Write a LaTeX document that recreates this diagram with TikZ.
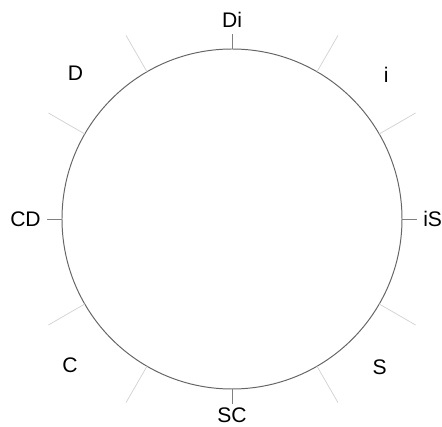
\documentclass[tikz,border=0pt]{standalone}
\usepackage{fontspec}
\setmainfont{Liberation Sans}
\tikzset{
  rim/.style={draw=black!60,line width=0.7pt},
  spoke/.style={draw=black!18,line width=0.5pt},
  axis tick/.style={draw=black!50,line width=0.6pt},
  pole/.style={inner sep=0pt},
}
\begin{document}
\begin{tikzpicture}[x=0.025cm,y=0.025cm,font=\fontsize{15}{18}\selectfont]
  \useasboundingbox (-232,-208) rectangle (210,219);
  \coordinate (O) at (0,0);
  \draw[rim] (O) circle (170);
  % light spokes between the poles
  \foreach \a in {30,60,120,150,210,240,300,330} {
    \coordinate (r\a) at (\a:170); \coordinate (s\a) at (\a:212);
    \draw[spoke] (r\a) -- (s\a);
  }
  % short ticks on the axes
  \foreach \a/\txt/\anc/\gap in {90/Di/south/191,180/CD/east/191,0/iS/west/191,270/SC/north/188} {
    \coordinate (r\a) at (\a:170); \coordinate (t\a) at (\a:185);
    \draw[axis tick] (r\a) -- (t\a);
    \node[pole,anchor=\anc] (l\a) at (\a:\gap) {\txt};
  }
  \node (lD) at (137:214) {D}; \node (li) at (43:211) {i};
  \node (lC) at (222:218) {C}; \node (lS) at (315:209) {S};
\end{tikzpicture}
\end{document}
